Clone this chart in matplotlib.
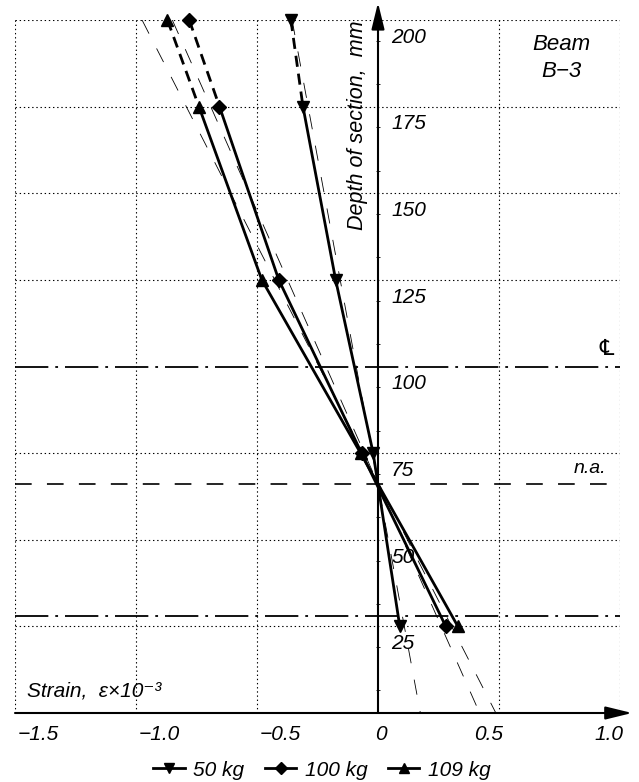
import matplotlib
matplotlib.use("Agg")
import matplotlib.pyplot as plt
from matplotlib.lines import Line2D

plt.rcParams['font.family'] = ['Liberation Sans', 'DejaVu Sans']
plt.rcParams['font.style'] = 'italic'
plt.rcParams['lines.scale_dashes'] = False

# measured strain (x10^-3) at gauge depths (mm)
depth = [200, 175, 125, 75, 25]
strain_50 = [-0.36, -0.31, -0.175, -0.02, 0.09]
strain_100 = [-0.78, -0.655, -0.41, -0.068, 0.28]
strain_109 = [-0.87, -0.74, -0.48, -0.072, 0.33]
labels = ['50 kg', '100 kg', '109 kg']
markers = ['v', 'D', '^']

# thin dashed lines (linear strain through n.a.)
theory_depth = [200, 0]
theory_50 = [-0.355, 0.175]
theory_100 = [-0.85, 0.42]
theory_109 = [-0.975, 0.487]

xticks = [-1.5, -1.0, -0.5, 0, 0.5, 1.0]
xticklabels = ['\u22121.5', '\u22121.0', '\u22120.5', '0', '0.5', '1.0']
ygrid = [200, 175, 150, 125, 75, 50, 25]
ylabels = [200, 175, 150, 125, 100, 75, 50, 25]
centre_line = 100
neutral_axis = 66
lower_line = 28

fig = plt.figure(figsize=(6.39, 7.82), dpi=100)
ax = fig.add_axes([15/639, 69/782, 605/639, 693/782])
ax.set_xlim(-1.5, 1.0)
ax.set_ylim(0, 200)
for s in ax.spines.values():
    s.set_visible(False)
ax.set_xticks([])
ax.spines['left'].set_position(('data', 0))
ax.set_yticks([194 - 12.5*i for i in range(16)])
ax.tick_params(axis='y', direction='inout', length=3, width=0.6, labelleft=False)

# grid
ax.hlines(ygrid, -1.5, 1.0, colors='k', linestyles=(0, (1, 2)), lw=0.8)
for v in xticks:
    if v != 0:
        ax.vlines(v, 0, 200, colors='k', linestyles=(0, (1, 2)), lw=0.8)

# reference lines
ax.hlines([centre_line, lower_line], -1.5, 1.0, colors='k',
          linestyles=(0, (24, 5, 2, 5)), lw=1.3)
ax.hlines(neutral_axis, -1.5, 1.0, colors='k', linestyles=(0, (12, 11)), lw=1.2)

# axes with arrows
ax.annotate('', xy=(0, 205), xytext=(0, 0), annotation_clip=False,
            arrowprops=dict(arrowstyle='-|>,head_length=0.9,head_width=0.22',
                            lw=1.5, color='k', mutation_scale=18, shrinkA=0, shrinkB=0))
ax.annotate('', xy=(1.05, 0), xytext=(-1.5, 0), annotation_clip=False,
            arrowprops=dict(arrowstyle='-|>,head_length=0.9,head_width=0.22',
                            lw=1.5, color='k', mutation_scale=18, shrinkA=0, shrinkB=0))

# theoretical lines
for t in [theory_50, theory_100, theory_109]:
    ax.plot(t, theory_depth, color='k', lw=0.6, linestyle=(0, (11, 12)))

# experimental
for s, m in zip([strain_50, strain_100, strain_109], markers):
    ax.plot(s[:2], depth[:2], color='k', lw=2.0, linestyle=(0, (8, 5)))
    ax.plot(s[1:], depth[1:], color='k', lw=2.0)
    ax.plot(s, depth, linestyle='none', marker=m, color='k',
            markersize=7.5 if m == 'D' else 9, clip_on=False, zorder=5)

# tick labels
for v, t in zip(xticks, xticklabels):
    ha = 'left' if v < 0 else ('center' if v == 0 else 'right')
    dx = 0.012 if v < 0 else (0.015 if v > 0 else 0.01)
    ax.text(v + dx, -6.2, t, ha=ha, va='center', fontsize=15)
for v in ylabels:
    ax.text(0.055, v - 5, str(v), ha='left', va='center', fontsize=15)

ax.text(-0.085, 200, 'Depth of section,  mm', rotation=90, ha='center', va='top', fontsize=15.5)
ax.text(-1.45, 6.3, 'Strain,  \u03b5\u00d710\u207b\u00b3', ha='left', va='center', fontsize=15)
ax.text(0.756, 189, 'Beam\nB\u22123', ha='center', va='center', fontsize=16, linespacing=1.35)
ax.text(0.946, 105, '\u2104', ha='center', va='center', fontsize=16,
        family=['DejaVu Sans', 'Noto Sans'])
ax.text(0.876, 70.7, 'n.a.', ha='center', va='center', fontsize=14)

handles = [Line2D([], [], color='k', lw=2.0, marker=m, markersize=6 if m == 'D' else 7)
           for m in markers]
fig.legend(handles, labels, loc='center', bbox_to_anchor=(322/639, 12/782), ncol=3,
           frameon=False, fontsize=15, handlelength=1.5, handletextpad=0.4,
           columnspacing=1.0, borderpad=0)

plt.savefig('out.png', dpi=100)
